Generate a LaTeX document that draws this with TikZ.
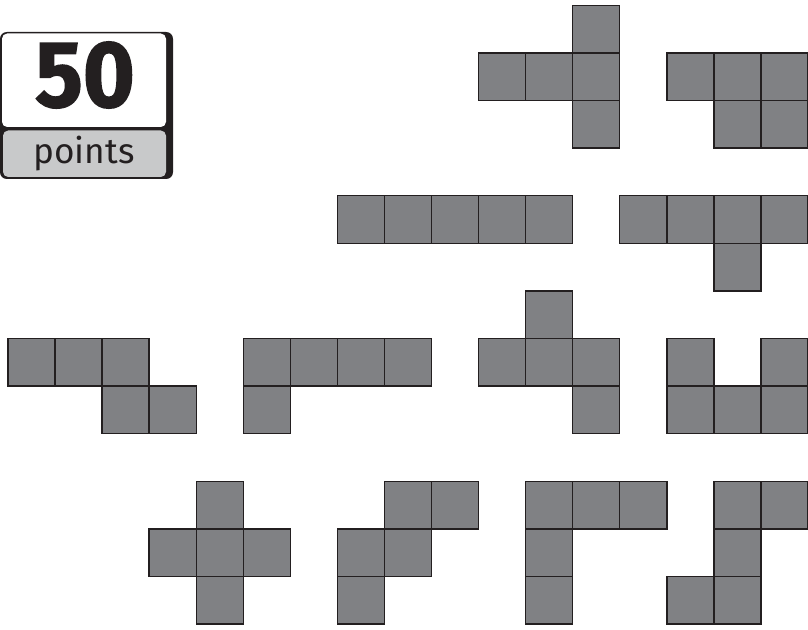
\documentclass[tikz,border=0pt]{standalone}
\usepackage{fontspec}
\setmainfont{Fira Sans}
\newfontfamily\scorefont{Fira Sans}[BoldFeatures={FakeBold=1.6}]
\usepackage{xcolor}
\definecolor{pgray}{HTML}{808184}
\definecolor{pline}{HTML}{231F20}
\definecolor{plabel}{HTML}{C8C9CA}
\tikzset{
  cell/.style    = {fill=pgray, draw=pline, line width=1pt},
  badgeout/.style= {fill=pline, rounded corners=0.17cm},
  badgetop/.style= {fill=white, rounded corners=0.13cm},
  badgebot/.style= {fill=plabel, rounded corners=0.13cm},
}
% one cell of the grid, in px
\newcommand{\gx}[1]{8+47.06*#1}
\newcommand{\gy}[1]{5.3+47.6*#1}

\begin{document}
\begin{tikzpicture}[x=0.025cm,y=-0.025cm]
\useasboundingbox (0,0) rectangle (808,630);
% score badge
\fill[badgeout] (0,32) rectangle (173,179);
\fill[badgetop] (2,33.5) rectangle (166,127);
\fill[badgebot] (3,130.5) rectangle (166,177);
\node[font=\scorefont\bfseries\fontsize{62}{62}\selectfont, text=pline, inner sep=0pt] (score) at (85,75) {\scalebox{1.02}[1.08]{50}};
\node[font=\fontsize{25}{25}\selectfont, text=pline, inner sep=0pt, anchor=base] (unit) at (84,163) {points};
% row 1
\foreach \c/\r in {12/0, 10/1, 11/1, 12/1, 12/2}
  \draw[cell] ({\gx{\c}},{\gy{\r}}) rectangle ++(47.06,47.6);
\foreach \c/\r in {14/1, 15/1, 16/1, 15/2, 16/2}
  \draw[cell] ({\gx{\c}},{\gy{\r}}) rectangle ++(47.06,47.6);
% row 2
\foreach \c/\r in {7/4, 8/4, 9/4, 10/4, 11/4}
  \draw[cell] ({\gx{\c}},{\gy{\r}}) rectangle ++(47.06,47.6);
\foreach \c/\r in {13/4, 14/4, 15/4, 16/4, 15/5}
  \draw[cell] ({\gx{\c}},{\gy{\r}}) rectangle ++(47.06,47.6);
% row 3
\foreach \c/\r in {0/7, 1/7, 2/7, 2/8, 3/8}
  \draw[cell] ({\gx{\c}},{\gy{\r}}) rectangle ++(47.06,47.6);
\foreach \c/\r in {5/7, 6/7, 7/7, 8/7, 5/8}
  \draw[cell] ({\gx{\c}},{\gy{\r}}) rectangle ++(47.06,47.6);
\foreach \c/\r in {11/6, 10/7, 11/7, 12/7, 12/8}
  \draw[cell] ({\gx{\c}},{\gy{\r}}) rectangle ++(47.06,47.6);
\foreach \c/\r in {14/7, 16/7, 14/8, 15/8, 16/8}
  \draw[cell] ({\gx{\c}},{\gy{\r}}) rectangle ++(47.06,47.6);
% row 4
\foreach \c/\r in {4/10, 3/11, 4/11, 5/11, 4/12}
  \draw[cell] ({\gx{\c}},{\gy{\r}}) rectangle ++(47.06,47.6);
\foreach \c/\r in {8/10, 9/10, 7/11, 8/11, 7/12}
  \draw[cell] ({\gx{\c}},{\gy{\r}}) rectangle ++(47.06,47.6);
\foreach \c/\r in {11/10, 12/10, 13/10, 11/11, 11/12}
  \draw[cell] ({\gx{\c}},{\gy{\r}}) rectangle ++(47.06,47.6);
\foreach \c/\r in {15/10, 16/10, 15/11, 14/12, 15/12}
  \draw[cell] ({\gx{\c}},{\gy{\r}}) rectangle ++(47.06,47.6);
\end{tikzpicture}
\end{document}
